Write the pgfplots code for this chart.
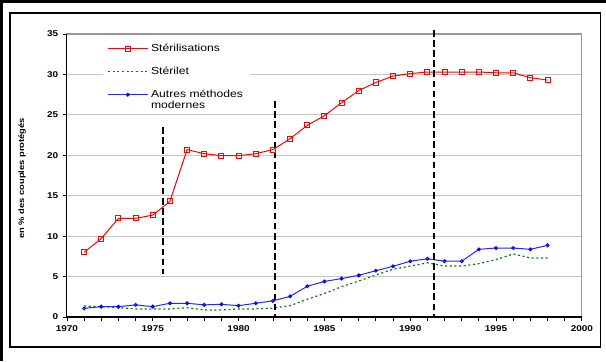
\documentclass[border=0pt]{standalone}
\usepackage{fontspec}
\setmainfont{Liberation Sans}[FakeStretch=1.19]
\usepackage{pgfplots}
\pgfplotsset{compat=1.18}
\begin{document}
\begin{tikzpicture}[x=0.75pt,y=0.75pt]
\path[use as bounding box] (0,0) rectangle (606,361);
\fill[black] (0,357.5) rectangle (606,361);
\fill[black] (0,0) rectangle (3,361);
\draw[black, line width=0.8pt] (10,14) rectangle (600.5,348);
\begin{axis}[
  at={(50.2pt,33pt)}, anchor=south west,
  scale only axis, width=386.2pt, height=212.25pt,
  xmin=1970, xmax=2000, ymin=0, ymax=35,
  xtick={1970,1975,...,2000}, ytick={0,5,...,35},
  minor x tick num=4,
  tick pos=left, tick align=outside,
  major tick length=3pt, minor tick length=3pt,
  tick style={black, line width=0.6pt},
  axis line style={gray!80, line width=0.8pt},
  ymajorgrids, grid style={gray!45, line width=0.8pt},
  /pgf/number format/assume math mode=true,
  /pgf/number format/1000 sep={},
  tick label style={font=\bfseries\fontsize{6.3}{7}\selectfont},
  ylabel={en \% des couples protégés},
  ylabel style={font=\bfseries\fontsize{5.9}{7}\selectfont, at={(axis description cs:-0.087,0.49)}, anchor=center},
  clip=false,
  legend style={at={(axis description cs:0.07,0.988)}, anchor=north west, fill=white, draw=none,
    font=\fontsize{7.65}{8.3}\selectfont, row sep=6pt, inner sep=3pt,
    cells={anchor=base west}},
  legend image code/.code={\draw[mark indices={2},#1] plot coordinates {(0pt,2.3pt) (15pt,2.3pt) (30pt,2.3pt)};},
]
\addplot[red, line width=0.75pt, mark=square, mark size=1.9pt, mark options={solid, fill=white}] coordinates {
(1971,8.0) (1972,9.7) (1973,12.2) (1974,12.2) (1975,12.6) (1976,14.3) (1977,20.7)
(1978,20.2) (1979,19.95) (1980,19.95) (1981,20.2) (1982,20.7) (1983,22.05) (1984,23.7)
(1985,24.9) (1986,26.5) (1987,28.0) (1988,29.0) (1989,29.8) (1990,30.1) (1991,30.3)
(1992,30.3) (1993,30.3) (1994,30.3) (1995,30.2) (1996,30.2) (1997,29.6) (1998,29.3)};
\addlegendentry{Stérilisations}
\addplot[green!50!black, line width=0.9pt, dash pattern=on 1.5pt off 2pt] coordinates {
(1971,1.36) (1972,1.28) (1973,1.15) (1974,1.0) (1975,1.0) (1976,1.0) (1977,1.15)
(1978,0.87) (1979,0.87) (1980,1.0) (1981,1.0) (1982,1.1) (1983,1.4) (1984,2.2)
(1985,2.9) (1986,3.75) (1987,4.45) (1988,5.2) (1989,5.9) (1990,6.3) (1991,6.7)
(1992,6.3) (1993,6.3) (1994,6.6) (1995,7.1) (1996,7.8) (1997,7.3) (1998,7.3)};
\addlegendentry{Stérilet}
\addplot[blue!85!white, line width=0.75pt, mark=o, mark size=1.1pt, mark options={solid, blue, fill=white}] coordinates {
(1971,1.07) (1972,1.28) (1973,1.28) (1974,1.5) (1975,1.28) (1976,1.7) (1977,1.7)
(1978,1.5) (1979,1.57) (1980,1.4) (1981,1.7) (1982,2.0) (1983,2.55) (1984,3.8)
(1985,4.4) (1986,4.75) (1987,5.15) (1988,5.73) (1989,6.27) (1990,6.9) (1991,7.2)
(1992,6.9) (1993,6.9) (1994,8.37) (1995,8.53) (1996,8.53) (1997,8.37) (1998,8.86)};
\addlegendentry{\begin{tabular}[t]{@{}l@{}}Autres méthodes\\modernes\end{tabular}}
\addplot[black, line width=1.5pt, dash pattern=on 5pt off 2.6pt, forget plot] coordinates {(1975.62,23.5) (1975.62,5.3)};
\addplot[black, line width=1.5pt, dash pattern=on 5pt off 2.6pt, forget plot] coordinates {(1982.14,26.7) (1982.14,0)};
\addplot[black, line width=1.5pt, dash pattern=on 5pt off 2.6pt, forget plot] coordinates {(1991.37,35.5) (1991.37,0)};
\draw[black, line width=0.8pt] (rel axis cs:0,1) -- (rel axis cs:0,0) -- (rel axis cs:1,0);
\end{axis}
\end{tikzpicture}
\end{document}
